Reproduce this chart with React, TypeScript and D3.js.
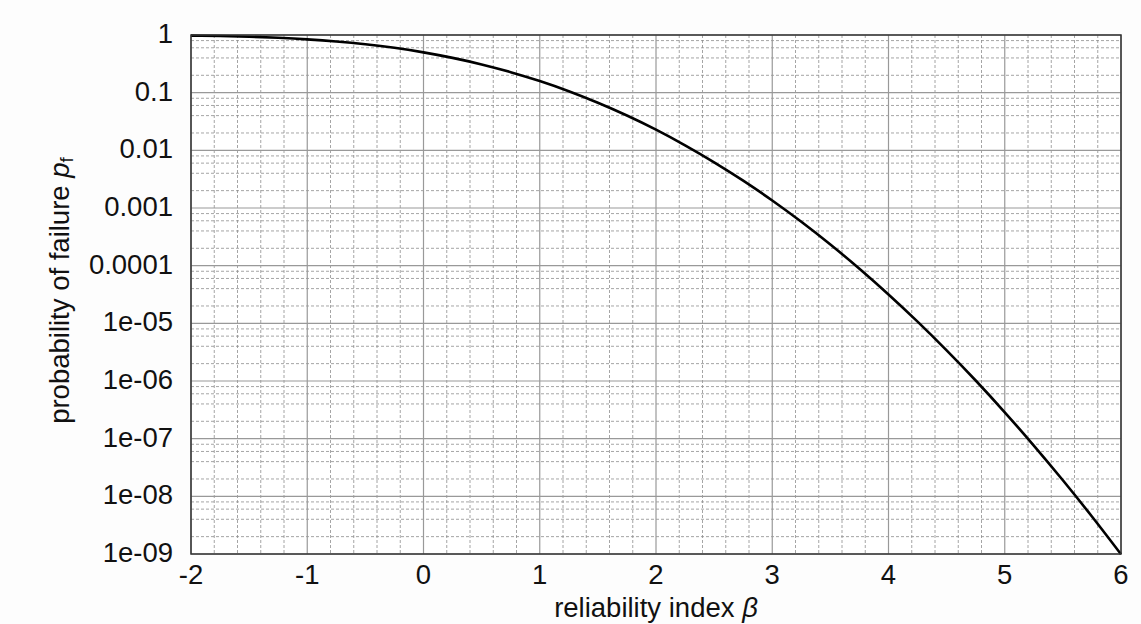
import { useEffect, useRef } from "react";
import * as d3 from "d3";

const W = 1141;
const H = 624;
const M = { top: 35, right: 20, bottom: 70, left: 191 };

// reliability index beta vs probability of failure
const BETA = [
  -2, -1.75, -1.5, -1.25, -1, -0.75, -0.5, -0.25, 0, 0.25, 0.5, 0.75, 1, 1.25, 1.5, 1.75, 2,
  2.25, 2.5, 2.75, 3, 3.25, 3.5, 3.75, 4, 4.25, 4.5, 4.75, 5, 5.25, 5.5, 5.75, 6,
];
const PF = [
  0.977, 0.96, 0.933, 0.894, 0.841, 0.773, 0.691, 0.599, 0.5, 0.401, 0.309, 0.227, 0.159,
  0.106, 0.0668, 0.0401, 0.0228, 0.0122, 0.0062, 0.00298, 0.00135, 5.77e-4, 2.33e-4, 8.84e-5,
  3.17e-5, 1.07e-5, 3.4e-6, 1.02e-6, 2.87e-7, 7.6e-8, 1.9e-8, 4.47e-9, 9.9e-10,
];

const X_TICKS = [-2, -1, 0, 1, 2, 3, 4, 5, 6];
const Y_TICKS = [1, 1e-1, 1e-2, 1e-3, 1e-4, 1e-5, 1e-6, 1e-7, 1e-8, 1e-9];
const Y_LABELS = ["1", "0.1", "0.01", "0.001", "0.0001", "1e-05", "1e-06", "1e-07", "1e-08", "1e-09"];
const MINOR_MULT = [2, 4, 6, 8];

const FONT = "'Liberation Sans', Arial, Helvetica, sans-serif";
const FS = 27.5;

export default function App() {
  const ref = useRef<SVGSVGElement>(null);

  useEffect(() => {
    const svg = d3.select(ref.current);
    svg.selectAll("*").remove();

    const iw = W - M.left - M.right;
    const ih = H - M.top - M.bottom;

    const x = d3.scaleLinear().domain([-2, 6]).range([0, iw]);
    const y = d3.scaleLog().domain([1e-9, 1]).range([ih, 0]);

    svg.append("rect").attr("width", W).attr("height", H).attr("fill", "#fdfdfd");

    const g = svg.append("g").attr("transform", `translate(${M.left},${M.top})`);
    g.append("rect").attr("width", iw).attr("height", ih).attr("fill", "#fff");

    // minor grid
    const xMinor = d3.range(-2, 6.001, 0.2).filter((v) => Math.abs(v - Math.round(v)) > 1e-6);
    g.append("g")
      .selectAll("line")
      .data(xMinor)
      .join("line")
      .attr("x1", (d) => x(d))
      .attr("x2", (d) => x(d))
      .attr("y1", 0)
      .attr("y2", ih)
      .attr("stroke", "#8e8e8e")
      .attr("stroke-width", 0.8)
      .attr("stroke-dasharray", "3,2");

    const yMinor: number[] = [];
    Y_TICKS.slice(1).forEach((t) => MINOR_MULT.forEach((m) => yMinor.push(t * m)));
    g.append("g")
      .selectAll("line")
      .data(yMinor)
      .join("line")
      .attr("x1", 0)
      .attr("x2", iw)
      .attr("y1", (d) => y(d))
      .attr("y2", (d) => y(d))
      .attr("stroke", "#8e8e8e")
      .attr("stroke-width", 0.8)
      .attr("stroke-dasharray", "3,2");

    // major grid
    g.append("g")
      .selectAll("line")
      .data(X_TICKS)
      .join("line")
      .attr("x1", (d) => x(d))
      .attr("x2", (d) => x(d))
      .attr("y1", 0)
      .attr("y2", ih)
      .attr("stroke", "#999")
      .attr("stroke-width", 1.2);
    g.append("g")
      .selectAll("line")
      .data(Y_TICKS)
      .join("line")
      .attr("x1", 0)
      .attr("x2", iw)
      .attr("y1", (d) => y(d))
      .attr("y2", (d) => y(d))
      .attr("stroke", "#999")
      .attr("stroke-width", 1.2);

    // curve
    const pts = BETA.map((b, i) => [b, PF[i]] as [number, number]);
    const line = d3
      .line<[number, number]>()
      .x((d) => x(d[0]))
      .y((d) => y(d[1]))
      .curve(d3.curveMonotoneX);
    g.append("path")
      .attr("d", line(pts))
      .attr("fill", "none")
      .attr("stroke", "#000")
      .attr("stroke-width", 2.6);

    g.append("rect")
      .attr("width", iw)
      .attr("height", ih)
      .attr("fill", "none")
      .attr("stroke", "#333")
      .attr("stroke-width", 1.5);

    // tick labels
    g.append("g")
      .selectAll("text")
      .data(X_TICKS)
      .join("text")
      .attr("x", (d) => x(d))
      .attr("y", ih + 30)
      .attr("text-anchor", "middle")
      .attr("font-family", FONT)
      .attr("font-size", FS)
      .attr("fill", "#111")
      .text((d) => String(d));

    g.append("g")
      .selectAll("text")
      .data(Y_TICKS)
      .join("text")
      .attr("x", -18)
      .attr("y", (d) => y(d) + 8)
      .attr("text-anchor", "end")
      .attr("font-family", FONT)
      .attr("font-size", FS)
      .attr("fill", "#111")
      .text((_, i) => Y_LABELS[i]);

    // axis titles
    const xt = g
      .append("text")
      .attr("x", iw / 2)
      .attr("y", ih + 63)
      .attr("text-anchor", "middle")
      .attr("font-family", FONT)
      .attr("font-size", FS)
      .attr("fill", "#111");
    xt.append("tspan").text("reliability index ");
    xt.append("tspan").attr("font-style", "italic").text("β");

    const yt = svg
      .append("text")
      .attr("transform", `translate(69,${M.top + ih / 2 - 4}) rotate(-90)`)
      .attr("text-anchor", "middle")
      .attr("font-family", FONT)
      .attr("font-size", FS)
      .attr("fill", "#111");
    yt.append("tspan").text("probability of failure ");
    yt.append("tspan").attr("font-style", "italic").text("p");
    yt.append("tspan").attr("font-size", 19).attr("dy", 4).text("f");
  }, []);

  return (
    <svg
      ref={ref}
      width={W}
      height={H}
      style={{ position: "absolute", left: 0, top: 0, display: "block" }}
    />
  );
}
